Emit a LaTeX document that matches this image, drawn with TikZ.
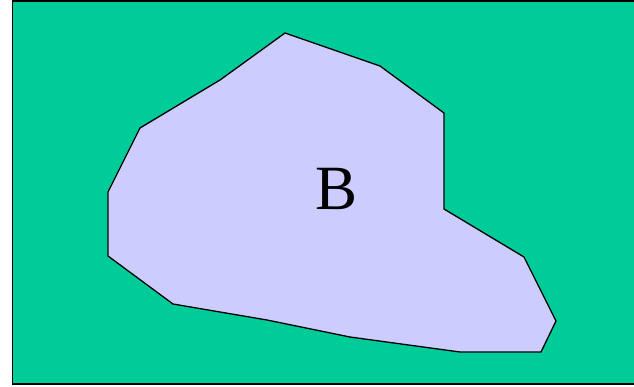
\documentclass[tikz,border=0pt]{standalone}
\usepackage{fontspec}
\setmainfont{Liberation Serif}
\definecolor{fondoVerde}{HTML}{00CC99}
\definecolor{regionLila}{HTML}{CCCCFF}

\begin{document}
\begin{tikzpicture}[
        x=1pt,
        y=-1pt,
        marco/.style={fill=fondoVerde, draw=black, line width=1.4pt},
        region/.style={fill=regionLila, draw=black, line width=1.3pt, line join=round},
        etiqueta/.style={font=\fontsize{63}{70}\selectfont, text=black, inner sep=0pt}
    ]
        \useasboundingbox (0,0) rectangle (634,386);

        % Fondo: el conjunto universal, cortado por el borde derecho.
        \fill[fondoVerde] (12.5,1) rectangle (634,384);
        \draw[marco, fill=none] (640,1) -- (12.5,1) -- (12.5,384) -- (640,384);

        % Conjunto B como poligonal cerrada.
        \draw[region] (285,33) -- (380,66) -- (444,113) -- (444,209) -- (524,257)
            -- (556,321) -- (541,352) -- (460,352) -- (350,337) -- (267,320)
            -- (173,304) -- (108,256) -- (108,192) -- (140,128) -- (220,80) -- cycle;

        \node[etiqueta] (nombreB) at (337,189) {B};
    \end{tikzpicture}
\end{document}
